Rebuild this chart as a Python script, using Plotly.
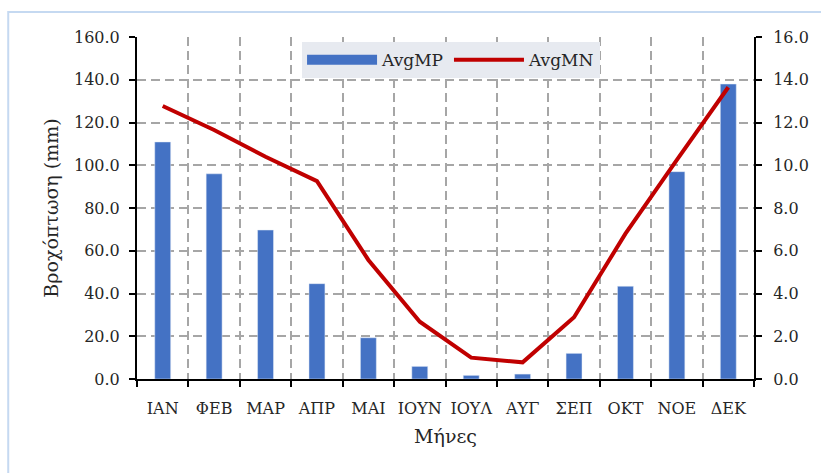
import plotly.graph_objects as go

# Monthly averages
months = ["ΙΑΝ", "ΦΕΒ", "ΜΑΡ", "ΑΠΡ", "ΜΑΙ", "ΙΟΥΝ", "ΙΟΥΛ", "ΑΥΓ", "ΣΕΠ", "ΟΚΤ", "ΝΟΕ", "ΔΕΚ"]
avg_mp = [110.9, 96.0, 69.7, 44.6, 19.3, 5.9, 1.7, 2.3, 12.0, 43.4, 97.0, 138.0]
avg_mn = [12.77, 11.65, 10.4, 9.26, 5.57, 2.68, 1.0, 0.78, 2.89, 6.8, 10.25, 13.65]

FONT = "DejaVu Serif"
TXT = "#262626"
GRID = "#a6a6a6"
DASH = "9px,5px"
BAR_COLOR = "#4472C4"

fig = go.Figure()
fig.add_trace(go.Bar(x=months, y=avg_mp, name="AvgMP", marker_color=BAR_COLOR,
                     width=0.31, yaxis="y", showlegend=False, legendgroup="mp"))
# wide swatch for the bar series in the legend
fig.add_trace(go.Scatter(x=[None], y=[None], name="AvgMP", mode="lines",
                         line=dict(color=BAR_COLOR, width=10), legendgroup="mp",
                         hoverinfo="skip"))
fig.add_trace(go.Scatter(x=months, y=avg_mn, name="AvgMN", mode="lines",
                         line=dict(color="#C00000", width=4), yaxis="y2"))

fig.update_layout(
    width=821, height=473,
    margin=dict(l=137, r=61, t=37, b=94),
    paper_bgcolor="white", plot_bgcolor="white",
    font=dict(family=FONT, size=16, color=TXT),
    showlegend=True,
    legend=dict(orientation="h", x=0.509, xanchor="center", y=0.985, yanchor="top",
                bgcolor="#e7eaf0", font=dict(size=17, color=TXT),
                itemwidth=70, tracegroupgap=0),
    xaxis=dict(
        title=dict(text="Μήνες", font=dict(size=19, color=TXT), standoff=12),
        tickson="boundaries", ticks="outside", ticklen=6, tickwidth=2, tickcolor="black",
        tickangle=0, ticklabelstandoff=14,
        showline=True, linecolor="black", linewidth=2,
        showgrid=True, gridcolor=GRID, griddash=DASH, gridwidth=1.5,
        tickfont=dict(size=16, color=TXT),
    ),
    yaxis=dict(
        title=dict(text="Βροχόπτωση (mm)", font=dict(size=19, color=TXT), standoff=10),
        range=[0, 160], dtick=20, tickformat=".1f",
        ticks="outside", ticklen=6, tickwidth=2, tickcolor="black",
        ticklabelstandoff=6,
        showline=True, linecolor="black", linewidth=2,
        showgrid=True, gridcolor=GRID, griddash=DASH, gridwidth=1.5,
        zeroline=False, tickfont=dict(size=16, color=TXT),
    ),
    yaxis2=dict(
        overlaying="y", side="right", range=[0, 16], dtick=2, tickformat=".1f",
        ticks="outside", ticklen=6, tickwidth=2, tickcolor="black",
        ticklabelstandoff=8,
        showline=True, linecolor="black", linewidth=2,
        showgrid=False, zeroline=False, tickfont=dict(size=16, color=TXT),
    ),
    shapes=[dict(type="rect", xref="paper", yref="paper",
                 x0=-0.2087, x1=1.3, y0=-0.5, y1=1.073,
                 line=dict(color="#c5d9f1", width=2), fillcolor="rgba(0,0,0,0)",
                 layer="below")],
)

fig.write_html("out.html")
